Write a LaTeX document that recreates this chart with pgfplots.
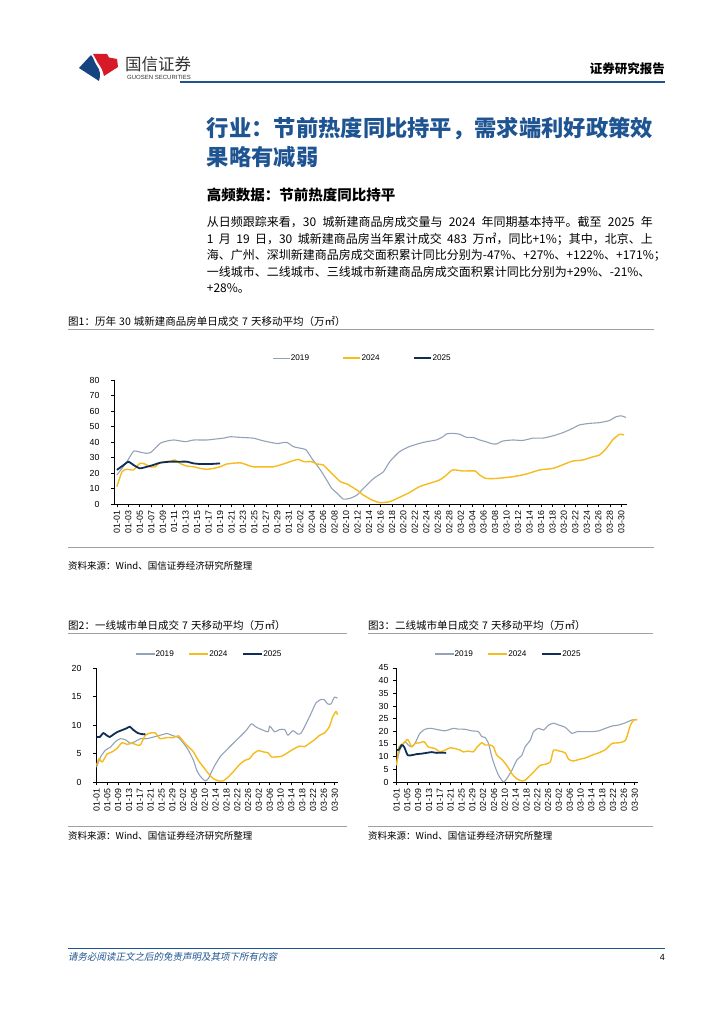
\documentclass[border=0pt]{standalone}
\usepackage{fontspec}
\setmainfont{Noto Sans CJK SC}
\newfontfamily\arial{Liberation Sans}
\newfontfamily\cjkit{Noto Sans CJK SC}[FakeSlant=0.2]
\usepackage{pgfplots}
\pgfplotsset{compat=1.18}

\definecolor{c19}{RGB}{146,163,184}
\definecolor{c24}{RGB}{245,188,28}
\definecolor{c25}{RGB}{15,45,85}
\definecolor{gsblue}{RGB}{31,84,146}
\definecolor{rulegray}{RGB}{160,160,160}
\definecolor{logored}{RGB}{214,26,40}
\definecolor{logoblue}{RGB}{22,68,128}

\XeTeXlinebreaklocale "zh"
\XeTeXlinebreakskip=0pt plus 4pt minus 0.7pt
\newcommand\jline[2]{\makebox[#1][s]{\spaceskip=0.2em plus 0.2pt minus 0.05em\relax #2}}

\pgfplotsset{
  pagechart/.style={
    scale only axis,
    axis x line*=bottom, axis y line*=left,
    axis line style={black, line width=0.6pt},
    tick style={black, line width=0.6pt},
    tick align=outside,
    major tick length=3pt,
    ymin=0,
    /pgf/number format/assume math mode=true,
    xticklabel style={rotate=90, anchor=east, font=\arial\fontsize{8.8}{9}\selectfont},
    yticklabel style={font=\arial\fontsize{8.8}{9}\selectfont},
    legend style={draw=none, fill=none, legend columns=-1, anchor=center,
      font=\arial\fontsize{8.2}{9}\selectfont, nodes={inner sep=0.5pt}},
    every axis plot/.append style={line join=round, mark=none, smooth, tension=0.35},
  },
  y19/.style={c19, line width=1.1pt},
  y24/.style={c24, line width=1.4pt},
  y25/.style={c25, line width=1.8pt},
}

\begin{document}
\begin{tikzpicture}
\path[use as bounding box, fill=white] (0,0) rectangle (724pt,-1024pt);

\begin{scope}[x=1pt,y=-1pt]
  % logo
  \fill[logoblue] (79,68) -- (91,55) .. controls (94,58) and (94,62) .. (97,66)
     .. controls (100,70) and (101,75) .. (99,81) -- cycle;
  \fill[logored] (93,54) -- (107,54) -- (109,57.5) -- (117,59) -- (118,67) -- (104,76)
     .. controls (103,71) and (101,67) .. (98,63) .. controls (96,60) and (95,57) .. (93,54) -- cycle;
  \node[anchor=west, inner sep=0] at (125,64.5) {\color{black!80}\fontsize{16.5}{18}\selectfont\jline{68pt}{国信证券}};
  \node[anchor=west, inner sep=0] at (127,77.7) {\color{black!80}\arial\fontsize{6}{6}\selectfont GUOSEN SECURITIES};
  \node[anchor=east, inner sep=0] at (665,69) {\bfseries\fontsize{12.5}{14}\selectfont 证券研究报告};
  \draw[gsblue, line width=2pt] (180,82) -- (665,82);

  % title
  \node[anchor=west, inner sep=0] at (206.7,128.3) {\color{gsblue}\bfseries\fontsize{22.3}{26}\selectfont 行业：节前热度同比持平，需求端利好政策效};
  \node[anchor=west, inner sep=0] at (206.7,156.7) {\color{gsblue}\bfseries\fontsize{22.3}{26}\selectfont 果略有减弱};
  \node[anchor=west, inner sep=0] at (206.7,195) {\bfseries\fontsize{14.5}{16}\selectfont\jline{206pt}{高频数据：节前热度同比持平}};

  % body
  \begin{scope}[every node/.style={anchor=west, inner sep=0, font=\fontsize{12}{14}\selectfont}]
    \node at (206.7,222) {\jline{446pt}{从日频跟踪来看，30 城新建商品房成交量与 2024 年同期基本持平。截至 2025 年}};
    \node at (206.7,239) {\jline{446pt}{1 月 19 日，30 城新建商品房当年累计成交 483 万㎡，同比+1\%；其中，北京、上}};
    \node at (206.7,255.5) {\jline{446pt}{海、广州、深圳新建商品房成交面积累计同比分别为-47\%、+27\%、+122\%、+171\%；}};
    \node at (206.7,272) {\jline{446pt}{一线城市、二线城市、三线城市新建商品房成交面积累计同比分别为+29\%、-21\%、}};
    \node at (206.7,288.5) {+28\%。};
  \end{scope}

  % captions, rules, sources
  \begin{scope}[every node/.style={anchor=west, inner sep=0}]
    \node at (68,321.5) {\fontsize{10.5}{12}\selectfont\spaceskip=0.3em\relax 图1：历年 30 城新建商品房单日成交 7 天移动平均（万㎡）};
    \node at (68,566) {\fontsize{9.5}{11}\selectfont 资料来源：Wind、国信证券经济研究所整理};
    \node at (68,625) {\fontsize{10.5}{12}\selectfont\spaceskip=0.3em\relax 图2：一线城市单日成交 7 天移动平均（万㎡）};
    \node at (368,625) {\fontsize{10.5}{12}\selectfont\spaceskip=0.3em\relax 图3：二线城市单日成交 7 天移动平均（万㎡）};
    \node at (68,836) {\fontsize{9.5}{11}\selectfont 资料来源：Wind、国信证券经济研究所整理};
    \node at (368,836) {\fontsize{9.5}{11}\selectfont 资料来源：Wind、国信证券经济研究所整理};
    \node at (68,957) {\color{gsblue}\cjkit\fontsize{9.5}{11}\selectfont 请务必阅读正文之后的免责声明及其项下所有内容};
  \end{scope}
  \node[anchor=east, inner sep=0] at (665,957) {\arial\fontsize{9}{10}\selectfont 4};
  \draw[rulegray, line width=0.8pt] (68,329.5) -- (654,329.5);
  \draw[rulegray, line width=0.8pt] (68,547) -- (654,547);
  \draw[rulegray, line width=0.8pt] (68,633) -- (347,633);
  \draw[rulegray, line width=0.8pt] (68,826) -- (347,826);
  \draw[rulegray, line width=0.8pt] (368,633) -- (653,633);
  \draw[rulegray, line width=0.8pt] (368,826) -- (653,826);
  \draw[gsblue, line width=1pt] (68,948) -- (665,948);
\end{scope}

% ---------------- chart 1
\begin{axis}[pagechart,
  at={(114pt,-504pt)}, anchor=south west,
  width=513pt, height=124pt,
  xmin=-0.5, xmax=89, ymax=80, ytick={0,10,...,80},
  yticklabel style={xshift=-8pt},
  xtick={0,2,...,88},
  xticklabels={01-01,01-03,01-05,01-07,01-09,01-11,01-13,01-15,01-17,01-19,01-21,01-23,01-25,01-27,01-29,01-31,02-02,02-04,02-06,02-08,02-10,02-12,02-14,02-16,02-18,02-20,02-22,02-24,02-26,02-28,03-02,03-04,03-06,03-08,03-10,03-12,03-14,03-16,03-18,03-20,03-22,03-24,03-26,03-28,03-30},
  legend style={at={(0.483,1.177)}, /tikz/every even column/.append style={column sep=33pt}},
  legend image code/.code={\draw[#1] (0pt,0pt) -- (17pt,0pt);},
]
\addplot[y19] coordinates {(0,18.7)(1.7,27)(2.9,34)(4,33.5)(5.2,32.7)(6,33.5)(7.5,39)(8.7,40.6)(10,41.3)(12,40.2)(13.4,41.3)(15.7,41.3)(17.4,42)(18.6,42.5)(19.8,43.4)(21.5,43)(23.8,42.5)(25,41.3)(26.2,40.2)(28,39)(28.8,39.5)(29.7,39.7)(30.8,37)(32,36)(33,35)(34,29.5)(35.5,22)(36.6,15.5)(37.5,10)(38.4,7)(39.5,3.2)(40.7,3.7)(41.9,5.8)(43,10)(44.8,16.5)(46.5,20.8)(47.6,27.3)(49.3,33.7)(51,37)(52.8,39.1)(54,40.2)(55.7,41.3)(56.9,43.4)(57.5,45.2)(58.6,45.6)(59.8,45)(61,43)(62.1,43)(63.3,41.3)(64.4,40.2)(65.3,39)(66.2,38.7)(67.3,40.6)(69.1,41.3)(70.8,41)(72.6,42.5)(74.3,42.5)(76.1,44)(77.8,46)(79.5,48.8)(80.7,51)(82.4,52)(84.2,52.5)(85.9,53.8)(87.1,56.3)(88,56.9)(88.8,55.8)};
\addplot[y24] coordinates {(0,11.2)(0.9,20.8)(1.7,22.4)(2.9,22)(4,26.2)(4.9,25.8)(5.8,24)(6.7,24)(7.5,26.6)(9.3,27.7)(10.2,28.4)(11,26.2)(12.2,24.5)(13.4,24)(14.5,23)(15.7,22.4)(16.9,23)(18,24)(19.2,25.8)(21.5,26.6)(22.7,25.2)(23.8,24)(26.2,24)(27.3,24)(28.5,25.2)(29.7,26.6)(30.8,28)(31.7,28.8)(32.6,27.3)(34,27.3)(34.9,25.8)(36,25.2)(37.2,20.8)(39,14.4)(40.1,13)(41.9,9)(43,5.8)(44.5,2.6)(45.9,0.9)(47.6,1.5)(49.3,4.3)(51,7.3)(52.8,11.2)(54.5,13.3)(56.3,15.5)(57.5,18.7)(58.6,22)(60.4,21.3)(62.5,21.3)(63.3,18.7)(64.4,16.5)(66.2,16.5)(69.1,17.6)(71.4,19.3)(73.8,22)(76.1,23)(78.4,26.2)(79.5,27.7)(81.3,28.4)(83.1,30.5)(84.2,31.6)(85.4,35.9)(86.5,41.3)(87.7,45)(88.5,44.5)};
\addplot[y25] coordinates {(0,22)(1.2,25.2)(2,27.3)(2.9,25.2)(4,23)(5.2,24)(6.4,25.2)(7.5,26.6)(9.3,27.3)(11,27.3)(12.2,27.3)(13.4,26.2)(14.5,25.8)(16.3,25.8)(18,26.2)};
\legend{2019,2024,2025}
\end{axis}

% ---------------- chart 2
\begin{axis}[pagechart,
  at={(96pt,-782pt)}, anchor=south west,
  width=242pt, height=114pt,
  xmin=-0.2, xmax=89.2, ymax=20, ytick={0,5,...,20},
  yticklabel style={xshift=-8pt},
  xtick={0,4,...,88},
  xticklabels={01-01,01-05,01-09,01-13,01-17,01-21,01-25,01-29,02-02,02-06,02-10,02-14,02-18,02-22,02-26,03-02,03-06,03-10,03-14,03-18,03-22,03-26,03-30},
  legend style={at={(0.465,1.123)}, /tikz/every even column/.append style={column sep=14pt}},
  legend image code/.code={\draw[#1] (0pt,0pt) -- (19pt,0pt);},
]
\addplot[y19] coordinates {(0,2.6)(1.5,4.4)(3.3,5.6)(5.1,6.1)(7,7.1)(8.8,7.6)(10.7,7.4)(12.5,6.8)(14.3,7.1)(16.2,7.6)(18.6,7.6)(21.1,7.9)(23.5,8.2)(26,8.5)(28.4,8.1)(30.3,7.8)(32.1,6.8)(33.9,5.6)(35.8,3.8)(37,2.1)(38.2,1.1)(40.1,0.2)(41.3,0.6)(43.1,2.4)(45.6,4.4)(48,5.6)(50.5,6.8)(52.9,7.9)(55.4,9.1)(57.2,10.2)(59.1,9.6)(61.5,9.1)(63.4,8.8)(64,9.8)(65.8,8.8)(67.6,9.2)(69.5,9.2)(70.7,8.2)(72.5,9)(74.4,8.4)(75.6,8.6)(77.5,10.3)(79.3,12.1)(81.1,13.9)(83,14.5)(84.2,14.4)(85.4,13.7)(86.6,13.7)(87.9,14.9)(89,14.7)};
\addplot[y24] coordinates {(0,2.9)(0.9,4.1)(2.1,3.5)(3.9,4.9)(5.8,5.3)(7.6,5.9)(9.4,6.9)(11.3,6.6)(13.1,6.8)(15,6.5)(16.2,6.5)(18,8.2)(19.9,8.6)(21.7,8.6)(23.5,7.6)(26,7.8)(28.4,7.8)(30.3,8.1)(32.1,7.1)(33.9,6.2)(35.8,5.3)(37.6,3.8)(39.5,2.6)(41.3,1.5)(43.1,0.6)(45,0.2)(46.8,0.2)(48.7,0.9)(50.5,1.8)(52.9,3.1)(54.8,3.8)(56.6,4.1)(57.8,4.9)(59.7,5.5)(61.5,5.3)(63.4,5.1)(64.6,4.4)(66.4,4.4)(68.3,4.5)(70.1,5)(72.5,5.7)(75,6.3)(76.8,6.2)(78.7,6.8)(80.5,7.4)(82.4,8.2)(84.2,8.6)(86,9.7)(87.3,11.5)(88.5,12.4)(89,11.8)};
\addplot[y25] coordinates {(0,7.9)(1.2,7.9)(2.5,8.6)(3.7,8.2)(4.9,7.9)(6.4,8.4)(7.8,8.8)(9.4,9.1)(11,9.4)(12.3,9.7)(13.7,9.1)(15.2,8.6)(16.8,8.4)(18,8.4)};
\legend{2019,2024,2025}
\end{axis}

% ---------------- chart 3
\begin{axis}[pagechart,
  at={(396pt,-782pt)}, anchor=south west,
  width=242pt, height=114pt,
  xmin=-0.2, xmax=89.2, ymax=45, ytick={0,5,...,45},
  yticklabel style={xshift=-1pt},
  xtick={0,4,...,88},
  xticklabels={01-01,01-05,01-09,01-13,01-17,01-21,01-25,01-29,02-02,02-06,02-10,02-14,02-18,02-22,02-26,03-02,03-06,03-10,03-14,03-18,03-22,03-26,03-30},
  legend style={at={(0.461,1.123)}, /tikz/every even column/.append style={column sep=14pt}},
  legend image code/.code={\draw[#1] (0pt,0pt) -- (19pt,0pt);},
]
\addplot[y19] coordinates {(0,7.3)(1.2,12.6)(3.1,15.9)(4.3,14.6)(5.6,13.9)(6.8,15.2)(8.6,19.2)(10.5,20.8)(12.3,21.2)(14.2,20.9)(16,20.5)(17.9,20.2)(19.8,20.8)(21,21.2)(22.8,20.9)(25.3,20.8)(27.8,20.2)(30.2,19.9)(31.5,17.9)(32.7,17.6)(34,15.2)(35.2,9.9)(36.4,6)(37.7,2.6)(39.5,0)(40.7,1.3)(42.6,4.6)(44.4,8.6)(46.3,10.6)(47.5,13.9)(49.4,16.5)(50.6,19.9)(52.5,21.2)(54.3,20.5)(56.2,22.5)(58,23.2)(59.9,22.5)(62.3,21.6)(64.8,19.2)(66.7,19.9)(68.5,19.9)(72.2,19.9)(74.7,20.2)(77.2,21.2)(79.6,22.1)(82.1,22.5)(84.6,23.4)(87,24.5)(88.5,24.7)};
\addplot[y24] coordinates {(0,6.6)(0.9,13.9)(2.5,15.2)(4.1,16.8)(5.6,13.9)(6.8,15.2)(8.6,15.5)(10.2,15.9)(11.7,13.9)(14.2,13.2)(16,11.9)(17.9,12.6)(19.8,13.5)(21.6,13.2)(23.5,12.6)(24.7,11.9)(26.5,12.2)(28.4,11.9)(29.6,13.6)(31.5,15.5)(32.7,14.6)(34.6,14.6)(35.8,13.9)(37,10.6)(38.9,8.9)(40.7,6.6)(42.6,3.3)(44.4,1.3)(46.3,0.4)(47.5,0.7)(49.4,2.6)(51.2,4.6)(53.1,6.6)(54.9,7)(56.8,7.9)(58,12.6)(59.9,12.3)(62.3,11.5)(63.6,8.9)(65.4,8.3)(67.3,8.9)(69.8,9.5)(72.2,10.6)(74.7,11.5)(77.2,12.8)(79.6,15.2)(82.1,15.5)(84.6,16.5)(86.4,22.5)(87.7,24.5)(88.9,24.5)};
\addplot[y25] coordinates {(0,12.6)(0.9,12.8)(1.9,14.6)(2.8,13.9)(4.1,10.6)(5.6,10.6)(7.4,11)(9.3,11.2)(11.1,11.5)(13,11.8)(14.8,11.5)(16.7,11.6)(18.3,11.5)};
\legend{2019,2024,2025}
\end{axis}
\end{tikzpicture}
\end{document}
